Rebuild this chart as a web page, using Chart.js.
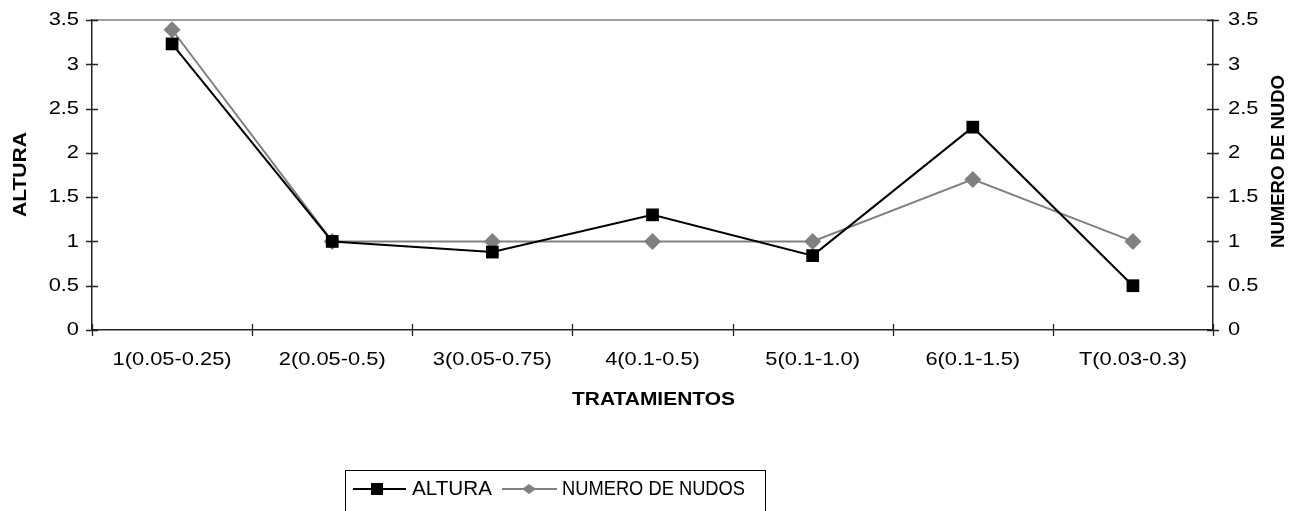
<!DOCTYPE html>
<html>
<head>
<meta charset="utf-8">
<script src="https://cdn.jsdelivr.net/npm/chart.js@4/dist/chart.umd.min.js"></script>
<style>
  html, body { margin: 0; padding: 0; background: #fff; }
  #wrap { width: 1306px; height: 511px; position: relative; }
</style>
</head>
<body>
<div id="wrap"><canvas id="c" width="1306" height="511"></canvas></div>
<script>
// Treatments on the horizontal axis
const categories = ['1(0.05-0.25)', '2(0.05-0.5)', '3(0.05-0.75)', '4(0.1-0.5)', '5(0.1-1.0)', '6(0.1-1.5)', 'T(0.03-0.3)'];
// Plant height per treatment (left axis)
const altura = [3.23, 1.0, 0.88, 1.3, 0.84, 2.29, 0.5];
// Number of nodes per treatment (right axis)
const numeroNudos = [3.39, 1.0, 1.0, 1.0, 1.0, 1.7, 1.0];
// Shared value axis ticks
const yTicks = [0, 0.5, 1, 1.5, 2, 2.5, 3, 3.5];

const seriesNames = ['ALTURA', 'NUMERO DE NUDOS'];
const axisTitles = { x: 'TRATAMIENTOS', y: 'ALTURA', y1: 'NUMERO DE NUDO' };

const FONT = '"Liberation Sans", Arial, sans-serif';
const TICK_FONT = '19px ' + FONT;
const TICK_STRETCH = 1.15;

// Draws text squeezed/stretched horizontally so it spans a given width
function fitText(ctx, text, cx, cy, font, width, rotate) {
  ctx.save();
  ctx.font = font;
  ctx.fillStyle = '#000';
  ctx.textAlign = 'center';
  ctx.textBaseline = 'middle';
  const natural = ctx.measureText(text).width;
  ctx.translate(cx, cy);
  if (rotate) ctx.rotate(rotate);
  ctx.scale(width / natural, 1);
  ctx.fillText(text, 0, 0);
  ctx.restore();
}

// Draws a tick label with a fixed horizontal stretch
function stretchText(ctx, text, x, y, align) {
  ctx.save();
  ctx.font = TICK_FONT;
  ctx.fillStyle = '#000';
  ctx.textAlign = align;
  ctx.textBaseline = 'middle';
  ctx.translate(x, y);
  ctx.scale(TICK_STRETCH, 1);
  ctx.fillText(text, 0, 0);
  ctx.restore();
}

const decorations = {
  id: 'decorations',
  afterDraw(chart) {
    const ctx = chart.ctx;
    const area = chart.chartArea;
    const xs = chart.scales.x, yl = chart.scales.y, yr = chart.scales.y1;
    ctx.save();

    // top frame line
    ctx.strokeStyle = '#808080';
    ctx.lineWidth = 1.5;
    ctx.beginPath();
    ctx.moveTo(area.left, area.top);
    ctx.lineTo(area.right, area.top);
    ctx.stroke();

    // tick marks crossing the axes
    ctx.strokeStyle = '#222';
    ctx.lineWidth = 1.3;
    ctx.beginPath();
    yl.ticks.forEach(t => {
      const py = Math.round(yl.getPixelForValue(t.value)) + 0.5;
      ctx.moveTo(area.left - 6, py); ctx.lineTo(area.left + 6, py);
    });
    yr.ticks.forEach(t => {
      const py = Math.round(yr.getPixelForValue(t.value)) + 0.5;
      ctx.moveTo(area.right - 6, py); ctx.lineTo(area.right + 6, py);
    });
    const n = categories.length;
    for (let i = 0; i <= n; i++) {
      const px = Math.round(xs.getPixelForValue(i - 0.5)) + 0.5;
      ctx.moveTo(px, area.bottom - 6); ctx.lineTo(px, area.bottom + 6);
    }
    ctx.stroke();

    // tick labels
    yl.ticks.forEach(t => {
      stretchText(ctx, String(t.value), area.left - 13, yl.getPixelForValue(t.value), 'right');
    });
    yr.ticks.forEach(t => {
      stretchText(ctx, String(t.value), area.right + 15, yr.getPixelForValue(t.value), 'left');
    });
    categories.forEach((c, i) => {
      stretchText(ctx, c, xs.getPixelForValue(i), area.bottom + 30, 'center');
    });

    // axis titles
    fitText(ctx, axisTitles.x, 653.5, 400, 'bold 18px ' + FONT, 163, 0);
    fitText(ctx, axisTitles.y, 21.5, 174.5, 'bold 18px ' + FONT, 85, -Math.PI / 2);
    fitText(ctx, axisTitles.y1, 1279.5, 161.5, 'bold 18px ' + FONT, 173, -Math.PI / 2);

    // legend box
    ctx.strokeStyle = '#000';
    ctx.lineWidth = 1;
    ctx.strokeRect(345.5, 470.5, 420, 50);

    const ly = 489;
    const ds = chart.data.datasets;
    // first entry: black line with square
    ctx.strokeStyle = ds[0].borderColor;
    ctx.lineWidth = 2;
    ctx.beginPath(); ctx.moveTo(353, ly); ctx.lineTo(406, ly); ctx.stroke();
    ctx.fillStyle = ds[0].pointBackgroundColor;
    ctx.fillRect(371, ly - 6, 12, 12);
    fitText(ctx, seriesNames[0], 412 + 40, ly, '20px ' + FONT, 80, 0);
    // second entry: grey line with diamond
    ctx.strokeStyle = ds[1].borderColor;
    ctx.beginPath(); ctx.moveTo(502, ly); ctx.lineTo(557, ly); ctx.stroke();
    ctx.fillStyle = ds[1].pointBackgroundColor;
    ctx.beginPath();
    ctx.moveTo(529, ly - 5); ctx.lineTo(536, ly); ctx.lineTo(529, ly + 5); ctx.lineTo(522, ly);
    ctx.closePath(); ctx.fill();
    fitText(ctx, seriesNames[1], 562 + 91.5, ly, '20px ' + FONT, 183, 0);

    ctx.restore();
  }
};

// Scale labels are drawn by the plugin above; the built-in ones are kept tiny and invisible
const hiddenTicks = () => ({
  padding: 0,
  color: 'rgba(0,0,0,0)',
  font: { family: FONT, size: 1 },
  callback: (v) => String(v)
});

new Chart(document.getElementById('c'), {
  type: 'line',
  data: {
    labels: categories,
    datasets: [
      {
        label: seriesNames[0],
        data: altura,
        yAxisID: 'y',
        borderColor: '#000',
        borderWidth: 2,
        pointStyle: 'rect',
        pointRadius: 9,
        pointBackgroundColor: '#000',
        pointBorderColor: '#000',
        pointBorderWidth: 0,
        tension: 0,
        order: 1
      },
      {
        label: seriesNames[1],
        data: numeroNudos,
        yAxisID: 'y1',
        borderColor: '#808080',
        borderWidth: 2,
        pointStyle: 'rectRot',
        pointRadius: 8.5,
        pointBackgroundColor: '#808080',
        pointBorderColor: '#808080',
        pointBorderWidth: 0,
        tension: 0,
        order: 2
      }
    ]
  },
  options: {
    responsive: false,
    devicePixelRatio: 1,
    animation: false,
    layout: { padding: { top: 20, left: 0, right: 0, bottom: 0 } },
    plugins: { legend: { display: false }, tooltip: { enabled: false } },
    scales: {
      x: {
        type: 'category',
        offset: true,
        grid: { display: false, drawTicks: false },
        border: { display: true, color: '#222', width: 1.5 },
        ticks: Object.assign(hiddenTicks(), { maxRotation: 0, autoSkip: false }),
        afterFit: (s) => { s.height = 181; }
      },
      y: {
        position: 'left',
        min: 0, max: 3.5,
        afterBuildTicks: (s) => { s.ticks = yTicks.map(v => ({ value: v })); },
        grid: { display: false, drawTicks: false },
        border: { display: true, color: '#222', width: 1.5 },
        ticks: hiddenTicks(),
        afterFit: (s) => { s.width = 92; }
      },
      y1: {
        position: 'right',
        min: 0, max: 3.5,
        afterBuildTicks: (s) => { s.ticks = yTicks.map(v => ({ value: v })); },
        grid: { display: false, drawTicks: false },
        border: { display: true, color: '#222', width: 1.5 },
        ticks: hiddenTicks(),
        afterFit: (s) => { s.width = 93; }
      }
    }
  },
  plugins: [decorations]
});
</script>
</body>
</html>
